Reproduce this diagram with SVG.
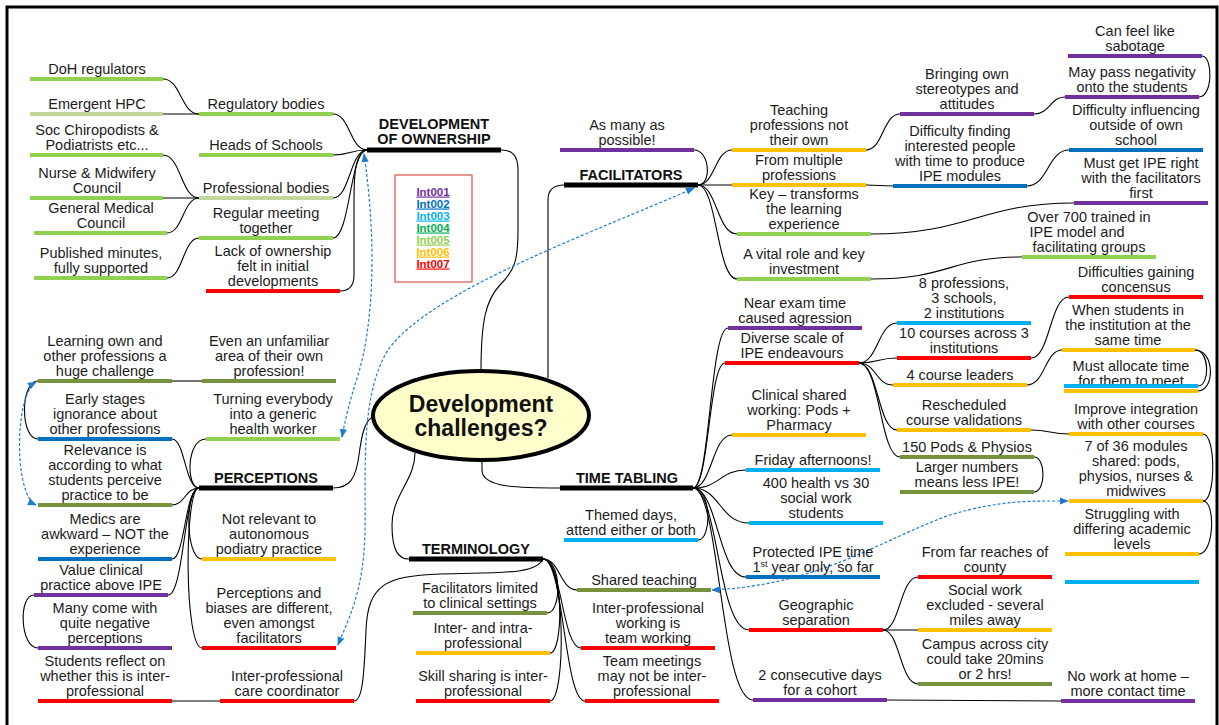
<svg xmlns="http://www.w3.org/2000/svg" width="1219" height="725" viewBox="0 0 1219 725">
<style>
  text { font-family: "Liberation Sans", Arial, sans-serif; font-size: 14.5px; fill: #1c1c1c; text-anchor: middle; }
  .hub text { font-weight: bold; fill: #111; }
  #centre text { font-size: 23px; font-weight: bold; fill: #111; }
  .u { stroke-width: 4; fill: none; }
  .hub line { stroke: #000; stroke-width: 5; }
  .purple { stroke: #7030A0; } .blue { stroke: #0070C0; } .lblue { stroke: #00B0F0; }
  .lgreen { stroke: #92D050; } .pgreen { stroke: #C3D69B; } .gold { stroke: #FFC000; }
  .red { stroke: #FF0000; } .olive { stroke: #76923C; }
  #connectors path { fill: none; stroke: #000; stroke-width: 1.1; }
  #links path { fill: none; stroke: #1F7BD0; stroke-width: 1.2; stroke-dasharray: 3 2; marker-start: url(#ah); marker-end: url(#ah); }
  .key text { font-size: 11.5px; font-weight: bold; text-decoration: underline; }
</style>
<defs>
  <marker id="ah" viewBox="0 0 10 10" refX="9" refY="5" markerWidth="9" markerHeight="9" markerUnits="userSpaceOnUse" orient="auto-start-reverse">
    <path d="M0,1 L10,5 L0,9 z" fill="#1F7BD0"/>
  </marker>
</defs>
<rect width="1219" height="725" fill="#fff"/>
<rect x="7" y="7" width="1210" height="740" fill="none" stroke="#000" stroke-width="3"/>

<!-- branch connectors -->
<g id="connectors">
  <!-- centre to main topics -->
  <path d="M481,371 C481,320 486,300 500,285 C515,270 518,260 518,230 L518,170 C518,155 512,150 501,150"/>
  <path d="M548,378 L548,200 C548,190 554,185 564,185"/>
  <path d="M482,460 L482,470 C482,488 520,488 560,488"/>
  <path d="M415,453 C415,480 392,495 392,525 C392,550 398,559 409,559"/>
  <path d="M373,417 C364,420 361,440 359,455 C356,478 350,488 333,488"/>
  <!-- development of ownership -->
  <path d="M367,150 C350,150 350,114 333,114"/>
  <path d="M367,150 C350,150 350,155 333,155"/>
  <path d="M367,150 C350,150 350,198 333,198"/>
  <path d="M367,150 C350,150 350,238 333,238"/>
  <path d="M367,150 C356,152 354,170 354,200 L354,275 C354,287 348,291 340,291"/>
  <path d="M199,114 C181,114 181,79 163,79"/>
  <path d="M199,114 L163,114"/>
  <path d="M199,198 C181,198 181,155 163,155"/>
  <path d="M199,198 L163,198"/>
  <path d="M199,198 C183,198 183,233 167,233"/>
  <path d="M199,238 C183,238 183,278 167,278"/>
  <!-- facilitators -->
  <path d="M698,185 C715,185 715,150 732,150"/>
  <path d="M698,185 L732,185"/>
  <path d="M698,185 C717,185 717,234 737,234"/>
  <path d="M698,185 C717,185 717,279 737,279"/>
  <path d="M698,185 C712,185 710,150 694,150"/>
  <path d="M866,150 C883,150 883,114 900,114"/>
  <path d="M866,185 L893,186"/>
  <path d="M1034,114 C1050,114 1050,97 1065,97"/>
  <path d="M1199,97 C1213,97 1213,56 1202,56"/>
  <path d="M1027,186 C1048,186 1048,150 1069,150"/>
  <path d="M871,234 C970,234 980,203 1074,203"/>
  <path d="M871,279 C950,279 950,257 1022,257"/>
  <!-- time tabling -->
  <path d="M693,488 C710,488 710,328 728,328"/>
  <path d="M693,488 C709,488 709,363 725,363"/>
  <path d="M693,488 C712,488 712,435 732,435"/>
  <path d="M693,488 C720,488 720,470 746,470"/>
  <path d="M693,488 C720,488 720,523 749,523"/>
  <path d="M693,488 C718,488 718,577 746,577"/>
  <path d="M693,488 C718,488 718,630 749,630"/>
  <path d="M693,488 C720,488 720,700 753,700"/>
  <path d="M693,488 C712,488 712,540 698,540"/>
  <path d="M859,363 C878,363 878,323 897,323"/>
  <path d="M859,363 C878,363 878,358 897,358"/>
  <path d="M859,363 C876,363 876,385 893,385"/>
  <path d="M859,363 C878,363 878,430 897,430"/>
  <path d="M859,363 C880,363 880,457 900,457"/>
  <path d="M1034,457 C1046,457 1046,492 1034,492"/>
  <path d="M1031,358 C1050,358 1050,297 1069,297"/>
  <path d="M1027,385 C1045,385 1045,350 1062,350"/>
  <path d="M1195,350 C1210,350 1210,386 1198,386"/>
  <path d="M1195,350 C1215,350 1215,391 1198,391"/>
  <path d="M1031,430 C1050,430 1050,434 1069,434"/>
  <path d="M1203,434 C1216,434 1216,501 1203,501"/>
  <path d="M1203,501 C1216,501 1214,554 1199,554"/>
  <path d="M883,630 C900,630 900,577 918,577"/>
  <path d="M883,630 L918,630"/>
  <path d="M883,630 C900,630 900,684 918,684"/>
  <path d="M887,700 L1061,701"/>
  <!-- terminology -->
  <path d="M543,559 C562,559 562,613 547,613"/>
  <path d="M543,559 C564,559 564,653 550,653"/>
  <path d="M543,559 C566,559 566,701 550,701"/>
  <path d="M543,559 C560,559 560,590 577,590"/>
  <path d="M543,559 C562,559 562,648 581,648"/>
  <path d="M543,559 C564,559 564,701 585,701"/>
  <path d="M543,559 C535,575 500,572 440,574 C385,576 368,585 366,630 C364,680 362,701 354,701"/>
  <path d="M220,701 L172,701"/>
  <!-- perceptions -->
  <path d="M199,488 C185,488 185,439 172,439"/>
  <path d="M199,488 C185,488 185,505 172,505"/>
  <path d="M199,488 C185,488 185,559 172,559"/>
  <path d="M199,488 C184,488 184,595 168,595"/>
  <path d="M199,488 C186,488 186,439 206,439"/>
  <path d="M199,488 C185,488 185,559 202,559"/>
  <path d="M199,488 C184,488 184,648 202,648"/>
  <path d="M38,439 C20,439 20,381 38,381"/>
  <path d="M172,381 L202,381"/>
  <path d="M34,595 C18,595 20,648 38,648"/>
</g>

<!-- cross links -->
<g id="links">
  <path d="M36,382 C14,395 14,495 36,505"/>
  <path d="M364,154 C378,250 372,330 358,375 C350,400 345,420 342,437"/>
  <path d="M694,188 C600,230 430,290 388,350 C360,395 366,470 365,530 C364,590 350,615 338,645"/>
  <path d="M712,590 C820,585 880,540 950,515 C1000,500 1030,501 1068,501"/>
</g>

<!-- central topic -->
<g id="centre">
  <ellipse cx="481" cy="415.5" rx="108" ry="44.5" fill="#FFFFCC" stroke="#000" stroke-width="4"/>
  <text x="481" y="412">Development</text>
  <text x="481" y="436">challenges?</text>
</g>

<!-- interview key -->
<g id="key" class="key">
  <rect x="395" y="175" width="77" height="107" fill="#fff" stroke="#D9534F" stroke-width="1.2"/>
  <text x="433" y="195.5" style="fill:#7030A0">Int001</text>
  <text x="433" y="207.5" style="fill:#0070C0">Int002</text>
  <text x="433" y="219.5" style="fill:#00B0F0">Int003</text>
  <text x="433" y="231.5" style="fill:#00B050">Int004</text>
  <text x="433" y="243.5" style="fill:#92D050">Int005</text>
  <text x="433" y="255.5" style="fill:#FFC000">Int006</text>
  <text x="433" y="267.5" style="fill:#FF0000">Int007</text>
</g>

<!-- DEVELOPMENT OF OWNERSHIP -->
<g id="dev-ownership" class="hub"><line x1="367" y1="150" x2="501" y2="150"/><text x="434" y="129.2">DEVELOPMENT</text><text x="434" y="144">OF OWNERSHIP</text></g>
<g id="doh"><line class="u lgreen" x1="30" y1="79" x2="163" y2="79"/><text x="97" y="73.5">DoH regulators</text></g>
<g id="hpc"><line class="u pgreen" x1="30" y1="114" x2="163" y2="114"/><text x="97" y="108.5">Emergent HPC</text></g>
<g id="soc"><line class="u lgreen" x1="30" y1="155" x2="163" y2="155"/><text x="97" y="134.7">Soc Chiropodists &amp;</text><text x="97" y="149.5">Podiatrists etc...</text></g>
<g id="nmc"><line class="u lgreen" x1="30" y1="198" x2="163" y2="198"/><text x="97" y="177.7">Nurse &amp; Midwifery</text><text x="97" y="192.5">Council</text></g>
<g id="gmc"><line class="u lgreen" x1="34" y1="233" x2="167" y2="233"/><text x="101" y="212.7">General Medical</text><text x="101" y="227.5">Council</text></g>
<g id="minutes"><line class="u lgreen" x1="34" y1="278" x2="167" y2="278"/><text x="101" y="257.7">Published minutes,</text><text x="101" y="272.5">fully supported</text></g>
<g id="regulatory"><line class="u lgreen" x1="199" y1="114" x2="333" y2="114"/><text x="266" y="108.5">Regulatory bodies</text></g>
<g id="heads"><line class="u lgreen" x1="199" y1="155" x2="333" y2="155"/><text x="266" y="149.5">Heads of Schools</text></g>
<g id="professional"><line class="u pgreen" x1="199" y1="198" x2="333" y2="198"/><text x="266" y="192.5">Professional bodies</text></g>
<g id="meeting"><line class="u lgreen" x1="199" y1="238" x2="333" y2="238"/><text x="266" y="217.7">Regular meeting</text><text x="266" y="232.5">together</text></g>
<g id="lack"><line class="u red" x1="206" y1="291" x2="340" y2="291"/><text x="273" y="255.9">Lack of ownership</text><text x="273" y="270.7">felt in initial</text><text x="273" y="285.5">developments</text></g>

<!-- FACILITATORS -->
<g id="facilitators" class="hub"><line x1="564" y1="185" x2="698" y2="185"/><text x="631" y="179.5">FACILITATORS</text></g>
<g id="as-many"><line class="u purple" x1="560" y1="150" x2="694" y2="150"/><text x="627" y="129.7">As many as</text><text x="627" y="144.5">possible!</text></g>
<g id="teaching"><line class="u gold" x1="732" y1="150" x2="866" y2="150"/><text x="799" y="114.9">Teaching</text><text x="799" y="129.7">professions not</text><text x="799" y="144.5">their own</text></g>
<g id="multiple"><line class="u gold" x1="732" y1="185" x2="866" y2="185"/><text x="799" y="164.7">From multiple</text><text x="799" y="179.5">professions</text></g>
<g id="transforms"><line class="u lgreen" x1="737" y1="234" x2="871" y2="234"/><text x="804" y="198.9">Key – transforms</text><text x="804" y="213.7">the learning</text><text x="804" y="228.5">experience</text></g>
<g id="vital"><line class="u lgreen" x1="737" y1="279" x2="871" y2="279"/><text x="804" y="258.7">A vital role and key</text><text x="804" y="273.5">investment</text></g>
<g id="stereotypes"><line class="u purple" x1="900" y1="114" x2="1034" y2="114"/><text x="967" y="78.9">Bringing own</text><text x="967" y="93.7">stereotypes and</text><text x="967" y="108.5">attitudes</text></g>
<g id="finding"><line class="u blue" x1="893" y1="186" x2="1027" y2="186"/><text x="960" y="136.1">Difficulty finding</text><text x="960" y="150.9">interested people</text><text x="960" y="165.7">with time to produce</text><text x="960" y="180.5">IPE modules</text></g>
<g id="sabotage"><line class="u purple" x1="1068" y1="56" x2="1202" y2="56"/><text x="1135" y="35.7">Can feel like</text><text x="1135" y="50.5">sabotage</text></g>
<g id="negativity"><line class="u purple" x1="1065" y1="97" x2="1199" y2="97"/><text x="1132" y="76.7">May pass negativity</text><text x="1132" y="91.5">onto the students</text></g>
<g id="influencing"><line class="u blue" x1="1069" y1="150" x2="1203" y2="150"/><text x="1136" y="114.9">Difficulty influencing</text><text x="1136" y="129.7">outside of own</text><text x="1136" y="144.5">school</text></g>
<g id="ipe-right"><line class="u purple" x1="1074" y1="203" x2="1208" y2="203"/><text x="1141" y="167.9">Must get IPE right</text><text x="1141" y="182.7">with the facilitators</text><text x="1141" y="197.5">first</text></g>
<g id="trained"><line class="u lgreen" x1="1022" y1="257" x2="1156" y2="257"/><text x="1089" y="221.9">Over 700 trained in</text><text x="1077" y="236.7">IPE model and</text><text x="1089" y="251.5">facilitating groups</text></g>

<!-- TIME TABLING -->
<g id="time-tabling" class="hub"><line x1="560" y1="488" x2="693" y2="488"/><text x="627" y="482.5">TIME TABLING</text></g>
<g id="exam"><line class="u purple" x1="728" y1="328" x2="862" y2="328"/><text x="795" y="307.7">Near exam time</text><text x="795" y="322.5">caused agression</text></g>
<g id="diverse"><line class="u red" x1="725" y1="363" x2="859" y2="363"/><text x="792" y="342.7">Diverse scale of</text><text x="792" y="357.5">IPE endeavours</text></g>
<g id="clinical"><line class="u gold" x1="732" y1="435" x2="866" y2="435"/><text x="799" y="399.9">Clinical shared</text><text x="799" y="414.7">working: Pods +</text><text x="799" y="429.5">Pharmacy</text></g>
<g id="friday"><line class="u lblue" x1="746" y1="470" x2="880" y2="470"/><text x="813" y="464.5">Friday afternoons!</text></g>
<g id="health400"><line class="u lblue" x1="749" y1="523" x2="883" y2="523"/><text x="816" y="487.9">400 health vs 30</text><text x="816" y="502.7">social work</text><text x="816" y="517.5">students</text></g>
<g id="protected"><line class="u blue" x1="746" y1="577" x2="880" y2="577"/><text x="813" y="556.7">Protected IPE time</text><text x="813" y="571.5">1<tspan font-size="9" dy="-5">st</tspan><tspan dy="5"> year only, so far</tspan></text></g>
<g id="geographic"><line class="u red" x1="749" y1="630" x2="883" y2="630"/><text x="816" y="609.7">Geographic</text><text x="816" y="624.5">separation</text></g>
<g id="consecutive"><line class="u purple" x1="753" y1="700" x2="887" y2="700"/><text x="820" y="679.7">2 consecutive days</text><text x="820" y="694.5">for a cohort</text></g>
<g id="themed"><line class="u lblue" x1="564" y1="540" x2="698" y2="540"/><text x="631" y="519.7">Themed days,</text><text x="631" y="534.5">attend either or both</text></g>
<g id="professions8"><line class="u lblue" x1="897" y1="323" x2="1031" y2="323"/><text x="964" y="287.9">8 professions,</text><text x="964" y="302.7">3 schools,</text><text x="964" y="317.5">2 institutions</text></g>
<g id="courses10"><line class="u red" x1="897" y1="358" x2="1031" y2="358"/><text x="964" y="337.7">10 courses across 3</text><text x="964" y="352.5">institutions</text></g>
<g id="leaders4"><line class="u gold" x1="893" y1="385" x2="1027" y2="385"/><text x="960" y="379.5">4 course leaders</text></g>
<g id="rescheduled"><line class="u gold" x1="897" y1="430" x2="1031" y2="430"/><text x="964" y="409.7">Rescheduled</text><text x="964" y="424.5">course validations</text></g>
<g id="pods150"><line class="u olive" x1="900" y1="457" x2="1034" y2="457"/><text x="967" y="451.5">150 Pods &amp; Physios</text></g>
<g id="larger"><line class="u olive" x1="900" y1="492" x2="1034" y2="492"/><text x="967" y="471.7">Larger numbers</text><text x="967" y="486.5">means less IPE!</text></g>
<g id="concensus"><line class="u red" x1="1069" y1="297" x2="1203" y2="297"/><text x="1136" y="276.7">Difficulties gaining</text><text x="1136" y="291.5">concensus</text></g>
<g id="same-time"><line class="u gold" x1="1062" y1="350" x2="1195" y2="350"/><text x="1128" y="314.9">When students in</text><text x="1128" y="329.7">the institution at the</text><text x="1128" y="344.5">same time</text></g>
<g id="allocate"><text x="1131" y="370.7">Must allocate time</text><text x="1131" y="385.5">for them to meet</text><line class="u gold" x1="1064" y1="391" x2="1198" y2="391"/></g>
<g id="blank-a"><line class="u lblue" x1="1064" y1="386" x2="1198" y2="386"/></g>
<g id="integration"><line class="u gold" x1="1069" y1="434" x2="1203" y2="434"/><text x="1136" y="413.7">Improve integration</text><text x="1136" y="428.5">with other courses</text></g>
<g id="modules7"><line class="u gold" x1="1069" y1="501" x2="1203" y2="501"/><text x="1136" y="451.1">7 of 36 modules</text><text x="1136" y="465.9">shared: pods,</text><text x="1136" y="480.7">physios, nurses &amp;</text><text x="1136" y="495.5">midwives</text></g>
<g id="struggling"><line class="u gold" x1="1065" y1="554" x2="1199" y2="554"/><text x="1132" y="518.9">Struggling with</text><text x="1132" y="533.7">differing academic</text><text x="1132" y="548.5">levels</text></g>
<g id="blank-b"><line class="u lblue" x1="1065" y1="582" x2="1199" y2="582"/></g>
<g id="far-reaches"><line class="u red" x1="918" y1="577" x2="1052" y2="577"/><text x="985" y="556.7">From far reaches of</text><text x="985" y="571.5">county</text></g>
<g id="social-work"><line class="u gold" x1="918" y1="630" x2="1052" y2="630"/><text x="985" y="594.9">Social work</text><text x="985" y="609.7">excluded - several</text><text x="985" y="624.5">miles away</text></g>
<g id="campus"><line class="u olive" x1="918" y1="684" x2="1052" y2="684"/><text x="985" y="648.9">Campus across city</text><text x="985" y="663.7">could take 20mins</text><text x="985" y="678.5">or 2 hrs!</text></g>
<g id="no-work"><line class="u purple" x1="1061" y1="701" x2="1195" y2="701"/><text x="1128" y="680.7">No work at home –</text><text x="1128" y="695.5">more contact time</text></g>

<!-- TERMINOLOGY -->
<g id="terminology" class="hub"><line x1="409" y1="559" x2="543" y2="559"/><text x="476" y="553.5">TERMINOLOGY</text></g>
<g id="limited"><line class="u olive" x1="413" y1="613" x2="547" y2="613"/><text x="480" y="592.7">Facilitators limited</text><text x="480" y="607.5">to clinical settings</text></g>
<g id="inter-intra"><line class="u gold" x1="416" y1="653" x2="550" y2="653"/><text x="483" y="632.7">Inter- and intra-</text><text x="483" y="647.5">professional</text></g>
<g id="skill"><line class="u red" x1="416" y1="701" x2="550" y2="701"/><text x="483" y="680.7">Skill sharing is inter-</text><text x="483" y="695.5">professional</text></g>
<g id="shared-teaching"><line class="u olive" x1="577" y1="590" x2="711" y2="590"/><text x="644" y="584.5">Shared teaching</text></g>
<g id="team-working"><line class="u red" x1="581" y1="648" x2="715" y2="648"/><text x="648" y="612.9">Inter-professional</text><text x="648" y="627.7">working is</text><text x="648" y="642.5">team working</text></g>
<g id="team-meetings"><line class="u red" x1="585" y1="701" x2="719" y2="701"/><text x="652" y="665.9">Team meetings</text><text x="652" y="680.7">may not be inter-</text><text x="652" y="695.5">professional</text></g>
<g id="care-coordinator"><line class="u red" x1="220" y1="701" x2="354" y2="701"/><text x="287" y="680.7">Inter-professional</text><text x="287" y="695.5">care coordinator</text></g>
<g id="reflect"><line class="u red" x1="38" y1="701" x2="172" y2="701"/><text x="105" y="665.9">Students reflect on</text><text x="105" y="680.7">whether this is inter-</text><text x="105" y="695.5">professional</text></g>

<!-- PERCEPTIONS -->
<g id="perceptions" class="hub"><line x1="199" y1="488" x2="333" y2="488"/><text x="266" y="482.5">PERCEPTIONS</text></g>
<g id="learning"><line class="u olive" x1="38" y1="381" x2="172" y2="381"/><text x="105" y="345.9">Learning own and</text><text x="105" y="360.7">other professions a</text><text x="105" y="375.5">huge challenge</text></g>
<g id="unfamiliar"><line class="u olive" x1="202" y1="381" x2="336" y2="381"/><text x="269" y="345.9">Even an unfamiliar</text><text x="269" y="360.7">area of their own</text><text x="269" y="375.5">profession!</text></g>
<g id="early"><line class="u blue" x1="38" y1="439" x2="172" y2="439"/><text x="105" y="403.9">Early stages</text><text x="105" y="418.7">ignorance about</text><text x="105" y="433.5">other professions</text></g>
<g id="generic"><line class="u lgreen" x1="206" y1="439" x2="340" y2="439"/><text x="273" y="403.9">Turning everybody</text><text x="273" y="418.7">into a generic</text><text x="273" y="433.5">health worker</text></g>
<g id="relevance"><line class="u olive" x1="38" y1="505" x2="172" y2="505"/><text x="105" y="455.1">Relevance is</text><text x="105" y="469.9">according to what</text><text x="105" y="484.7">students perceive</text><text x="105" y="499.5">practice to be</text></g>
<g id="medics"><line class="u blue" x1="38" y1="559" x2="172" y2="559"/><text x="105" y="523.9">Medics are</text><text x="105" y="538.7">awkward – NOT the</text><text x="105" y="553.5">experience</text></g>
<g id="value"><line class="u purple" x1="34" y1="595" x2="168" y2="595"/><text x="101" y="574.7">Value clinical</text><text x="101" y="589.5">practice above IPE</text></g>
<g id="negative"><line class="u purple" x1="38" y1="648" x2="172" y2="648"/><text x="105" y="612.9">Many come with</text><text x="105" y="627.7">quite negative</text><text x="105" y="642.5">perceptions</text></g>
<g id="not-relevant"><line class="u gold" x1="202" y1="559" x2="336" y2="559"/><text x="269" y="523.9">Not relevant to</text><text x="269" y="538.7">autonomous</text><text x="269" y="553.5">podiatry practice</text></g>
<g id="biases"><line class="u red" x1="202" y1="648" x2="336" y2="648"/><text x="269" y="598.1">Perceptions and</text><text x="269" y="612.9">biases are different,</text><text x="269" y="627.7">even amongst</text><text x="269" y="642.5">facilitators</text></g>
</svg>
